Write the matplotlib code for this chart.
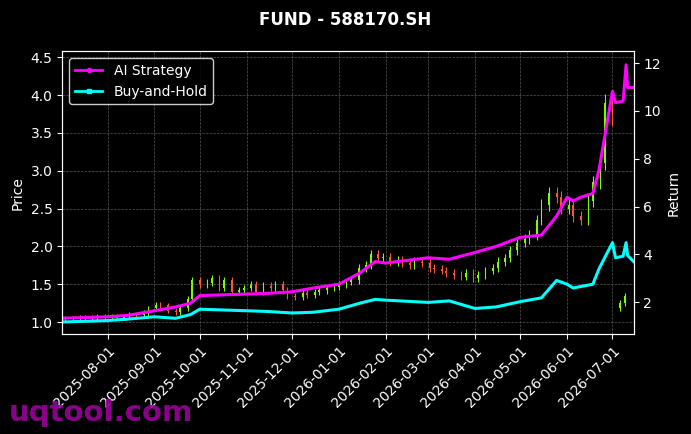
import matplotlib
matplotlib.use("Agg")
import matplotlib.pyplot as plt
import matplotlib.dates as mdates
from matplotlib.lines import Line2D
import pandas as pd
import numpy as np

closes = [1.04,1.05,1.05,1.06,1.05,1.06,1.07,1.06,
          1.07,1.06,1.08,1.10,1.09,1.12,1.18,
          1.23,1.22,1.15,1.13,1.18,1.30,1.55,
          1.50,1.52,1.58,1.45,1.55,1.40,1.42,
          1.45,1.50,1.40,1.48,1.45,1.50,1.42,
          1.35,1.33,1.38,1.36,1.40,1.42,1.45,1.47,
          1.50,1.53,1.55,1.72,1.75,1.90,1.85,
          1.86,1.80,1.82,1.78,1.75,1.80,1.78,
          1.72,1.70,1.68,1.65,1.62,1.60,1.65,
          1.58,1.62,1.68,1.72,1.80,1.85,1.95,
          2.05,2.10,2.15,2.35,2.55,2.70,2.65,
          2.50,2.55,2.40,2.35,2.60,2.85,3.10,
          3.90,3.70,1.25,1.35]
first_open = 1.03
gap_index = 88
gap_open = 1.18

line_dates = ["2025-07-01","2025-08-01","2025-08-15","2025-09-01","2025-09-15","2025-09-25","2025-10-01",
              "2025-11-01","2025-11-15","2025-12-01","2025-12-15","2026-01-01","2026-01-15","2026-01-25",
              "2026-02-01","2026-03-01","2026-03-15","2026-04-01","2026-04-15","2026-05-01","2026-05-15",
              "2026-05-25","2026-06-01","2026-06-05","2026-06-10","2026-06-18","2026-06-22","2026-07-01",
              "2026-07-03","2026-07-08","2026-07-10","2026-07-11","2026-07-15"]
ai_vals = [1.05,1.07,1.09,1.15,1.20,1.25,1.35,1.37,1.38,1.40,1.45,1.50,1.65,1.80,1.78,1.85,1.83,1.92,
           2.00,2.12,2.15,2.40,2.65,2.60,2.65,2.70,3.00,4.05,3.90,3.92,4.40,4.10,4.10]
bh_vals = [1.00,1.02,1.04,1.07,1.05,1.10,1.17,1.15,1.14,1.12,1.13,1.17,1.25,1.30,1.29,1.26,1.28,1.18,
           1.20,1.27,1.32,1.55,1.50,1.45,1.47,1.50,1.70,2.05,1.85,1.87,2.05,1.88,1.80]

plt.rcParams['font.family'] = ['DejaVu Sans']
fig = plt.figure(figsize=(6.91, 4.34), dpi=100, facecolor='black')
ax = fig.add_axes([0.09, 0.23, 0.827, 0.652], facecolor='black')

cdates = pd.date_range("2025-07-01", periods=len(closes), freq="3B")
opens = [first_open] + closes[:-1]
opens[gap_index] = gap_open
for d, o, c in zip(cdates, opens, closes):
    col = '#7CFC00' if c >= o else '#FF5533'
    hi, lo = max(o, c) * 1.03, min(o, c) * 0.97
    x = mdates.date2num(d)
    ax.vlines(x, lo, hi, color=col, lw=0.8)
    ax.bar(x, max(abs(c - o), 0.01), bottom=min(o, c), width=1.0, color=col)

ld = pd.to_datetime(line_dates)
ax.plot(ld, ai_vals, color='#FF00FF', lw=2.2)
ax.plot(ld, bh_vals, color='#00FFFF', lw=2.2)

ax.set_xlim(mdates.datestr2num("2025-07-02"), mdates.datestr2num("2026-07-15"))
ax.set_ylim(0.84, 4.58)
ax.set_ylabel("Price", color='white')
ax.xaxis.set_major_locator(mdates.MonthLocator())
ax.xaxis.set_major_formatter(mdates.DateFormatter("%Y-%m-%d"))
plt.setp(ax.get_xticklabels(), rotation=45, ha='right', rotation_mode='anchor')
ax.grid(True, color='#555555', ls='--', lw=0.5)
ax.tick_params(colors='white')
for s in ax.spines.values():
    s.set_color('white')

ax2 = ax.twinx()
ax2.set_ylim(0.66, 12.5)
ax2.set_yticks([2, 4, 6, 8, 10, 12])
ax2.set_ylabel("Return", color='white')
ax2.tick_params(colors='white')
for s in ax2.spines.values():
    s.set_color('white')

handles = [Line2D([], [], color='#FF00FF', lw=2, marker='o', ms=3, label='AI Strategy'),
           Line2D([], [], color='#00FFFF', lw=2, marker='s', ms=3, label='Buy-and-Hold')]
leg = ax.legend(handles=handles, loc='upper left', facecolor='black', edgecolor='white', labelcolor='white')

fig.suptitle("FUND - 588170.SH", color='white', fontweight='bold', y=0.975)
fig.text(0.012, 0.03, "uqtool.com", color='#990099', fontsize=21, fontweight='bold', alpha=0.9)
fig.savefig("out.png", facecolor='black')
